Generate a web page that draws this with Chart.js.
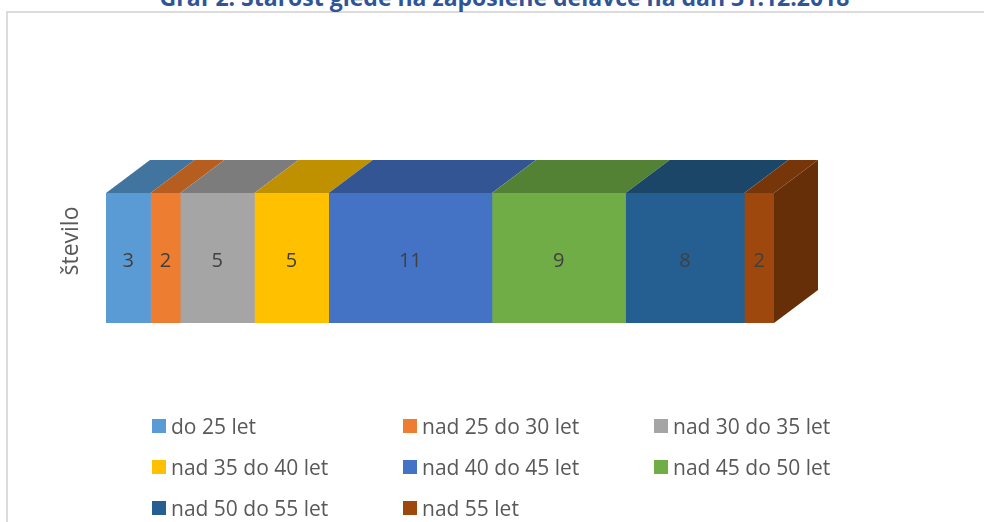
<!DOCTYPE html>
<html lang="sl">
<head>
<meta charset="utf-8">
<title>Graf 2</title>
<script src="https://cdn.jsdelivr.net/npm/chart.js@4"></script>
<style>
  html, body { margin: 0; padding: 0; width: 984px; height: 522px; overflow: hidden; background: #fff; }
  body { position: relative; font-family: "Open Sans", "Noto Sans", sans-serif; }
  #okvir { position: absolute; left: 6px; top: 11px; width: 1000px; height: 540px; border: 2px solid #dcdcdc; box-sizing: border-box; }
  #naslov { position: absolute; left: 0; width: 1009px; top: -18px; text-align: center; font-size: 23px; line-height: 31px; font-weight: 700; color: #2f5597; white-space: nowrap; }
  #graf { position: absolute; left: 0; top: 0; }
  #legenda { position: absolute; left: 152px; top: 405px; display: grid; grid-template-columns: 251px 251px 251px; grid-auto-rows: 41px; }
  .vnos { display: flex; align-items: center; font-size: 21px; color: #595959; white-space: nowrap; }
  .vnos i { display: block; width: 14px; height: 14px; margin-right: 5px; position: relative; top: 0.5px; }
</style>
</head>
<body>
<div id="okvir"></div>
<div id="naslov"></div>
<canvas id="graf" width="984" height="522"></canvas>
<div id="legenda"></div>
<script>
const naslov = "Graf 2: Starost glede na zaposlene delavce na dan 31.12.2018";
const kategorije = ["število"];
const skupine = [
  "do 25 let",
  "nad 25 do 30 let",
  "nad 30 do 35 let",
  "nad 35 do 40 let",
  "nad 40 do 45 let",
  "nad 45 do 50 let",
  "nad 50 do 55 let",
  "nad 55 let",
];
const vrednosti = [3, 2, 5, 5, 11, 9, 8, 2];
const barve = ["#5b9bd5", "#ed7d31", "#a5a5a5", "#ffc000", "#4472c4", "#70ad47", "#255e91", "#9e480e"];
const barveZgoraj = ["#41749f", "#b65d20", "#7c7c7c", "#bf9000", "#335593", "#548235", "#1c4668", "#773609"];
const barvaStrani = "#672f07";
const globinaX = 44;
const globinaY = 33;
const pisava = '"Open Sans", "Noto Sans", sans-serif';

// 3D izgled: zgornje ploskve in desna stran
const kvader = {
  id: "kvader",
  beforeDatasetsDraw(chart) {
    const ctx = chart.ctx;
    let zadnji = null;
    chart.data.datasets.forEach((set, i) => {
      const el = chart.getDatasetMeta(i).data[0];
      const vrh = el.y - el.height / 2;
      ctx.fillStyle = barveZgoraj[i];
      ctx.beginPath();
      ctx.moveTo(el.base, vrh);
      ctx.lineTo(el.base + globinaX, vrh - globinaY);
      ctx.lineTo(el.x + globinaX, vrh - globinaY);
      ctx.lineTo(el.x, vrh);
      ctx.closePath();
      ctx.fill();
      zadnji = el;
    });
    const vrh = zadnji.y - zadnji.height / 2;
    const dno = zadnji.y + zadnji.height / 2;
    ctx.fillStyle = barvaStrani;
    ctx.beginPath();
    ctx.moveTo(zadnji.x, vrh);
    ctx.lineTo(zadnji.x + globinaX, vrh - globinaY);
    ctx.lineTo(zadnji.x + globinaX, dno - globinaY);
    ctx.lineTo(zadnji.x, dno);
    ctx.closePath();
    ctx.fill();
  },
  afterDatasetsDraw(chart) {
    const ctx = chart.ctx;
    ctx.fillStyle = "#404040";
    ctx.font = "20px " + pisava;
    ctx.textAlign = "center";
    ctx.textBaseline = "middle";
    chart.data.datasets.forEach((set, i) => {
      const el = chart.getDatasetMeta(i).data[0];
      ctx.fillText(set.data[0], (el.base + el.x) / 2, el.y + 3);
    });
    // naslov osi je v izvirniku nad sredino stolpca
    const y = chart.scales.y.getPixelForValue(0) - 17;
    ctx.save();
    ctx.translate(chart.chartArea.left - 35, y);
    ctx.rotate(-Math.PI / 2);
    ctx.fillStyle = "#595959";
    ctx.font = "23px " + pisava;
    ctx.fillText(kategorije[0], 0, 0);
    ctx.restore();
  },
};

document.getElementById("naslov").textContent = naslov;

const legenda = document.getElementById("legenda");
skupine.forEach((ime, i) => {
  const vnos = document.createElement("div");
  vnos.className = "vnos";
  vnos.innerHTML = `<i style="background:${barve[i]}"></i><span>${ime}</span>`;
  legenda.appendChild(vnos);
});

new Chart(document.getElementById("graf"), {
  type: "bar",
  data: {
    labels: kategorije,
    datasets: skupine.map((ime, i) => ({
      label: ime,
      data: [vrednosti[i]],
      backgroundColor: barve[i],
      borderWidth: 0,
    })),
  },
  plugins: [kvader],
  options: {
    indexAxis: "y",
    responsive: false,
    animation: false,
    barPercentage: 1,
    categoryPercentage: 1,
    layout: {
      padding: { left: 106, right: 210, top: 193, bottom: 199 },
    },
    plugins: {
      legend: { display: false },
      title: { display: false },
      tooltip: { enabled: false },
    },
    scales: {
      x: {
        stacked: true,
        display: false,
        min: 0,
        max: 45,
      },
      y: {
        stacked: true,
        display: false,
      },
    },
  },
});
</script>
</body>
</html>
